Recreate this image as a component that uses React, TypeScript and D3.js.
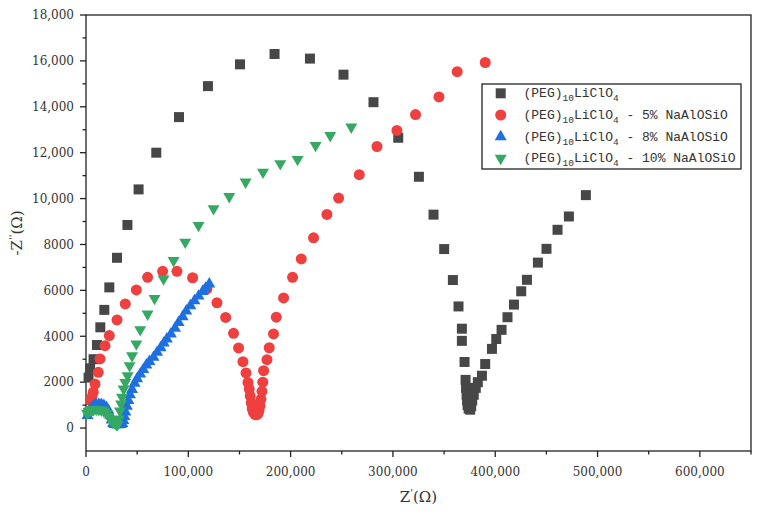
import React from 'react';
import * as d3 from 'd3';

// ---------- data (Z' in Ω, -Z'' in Ω) ----------
const xTickValues = [0, 100000, 200000, 300000, 400000, 500000, 600000];
const yTickValues = [0, 2000, 4000, 6000, 8000, 10000, 12000, 14000, 16000, 18000];
const legendSuffixes = ['', ' - 5% NaAlOSiO', ' - 8% NaAlOSiO', ' - 10% NaAlOSiO'];

const pegLiClO4: [number, number][] = [
  [2500, 2200], [4000, 2600], [7400, 3000], [10700, 3620], [14000, 4390], [17900, 5150],
  [22800, 6130], [30300, 7420], [40500, 8850], [51400, 10400], [68700, 12000], [90900, 13550],
  [119200, 14900], [150500, 15850], [184300, 16300], [218900, 16100], [251700, 15400],
  [281000, 14200], [305200, 12650], [325400, 10950], [339700, 9300], [350100, 7800],
  [358600, 6450], [364100, 5300], [367400, 4330], [367400, 3800], [370000, 2880],
  [371000, 2100], [371500, 1750], [372000, 1450], [372500, 1200], [373000, 1000],
  [374000, 850], [375500, 800], [376500, 950], [377500, 1200], [379000, 1450],
  [381000, 1750], [383000, 2000], [387000, 2280], [390200, 2790], [396800, 3450],
  [401000, 3880], [406200, 4280], [412000, 4830], [418300, 5380], [425400, 5960],
  [431000, 6460], [441700, 7210], [450100, 7810], [460900, 8640], [472000, 9220], [488600, 10150],
];

const peg5: [number, number][] = [
  [4500, 1200], [5900, 1350], [7100, 1560], [8800, 1920], [12000, 2430], [13700, 3010],
  [18600, 3590], [22800, 4030], [30300, 4710], [38400, 5410], [49200, 6020], [60200, 6570],
  [74900, 6830], [88900, 6830], [104200, 6550], [118200, 6070], [128000, 5460],
  [136500, 4820], [144200, 4130], [149100, 3490], [153400, 2890], [156400, 2400],
  [158300, 1990], [159500, 1700], [160500, 1400], [161500, 1100], [162500, 850],
  [163500, 700], [165000, 600], [166500, 580], [168000, 620], [169000, 750], [170000, 950],
  [171000, 1250], [172000, 1600], [172800, 2000], [173600, 2500], [176900, 2980],
  [179100, 3500], [183300, 4100], [186000, 4830], [193100, 5670], [201900, 6570],
  [210400, 7370], [222400, 8290], [235500, 9310], [246900, 10020], [267100, 11040],
  [284400, 12270], [303900, 12970], [322100, 13660], [345000, 14430], [362800, 15530],
  [390200, 15930],
];

const peg8: [number, number][] = [
  [1500, 550], [2500, 700], [4000, 820], [6000, 920], [8000, 980], [10000, 1020],
  [12500, 1040], [15000, 1030], [17500, 990], [20000, 900], [22000, 760], [23500, 560],
  [25000, 350], [26500, 200], [28000, 150], [30000, 140], [32000, 140], [34000, 150],
  [35500, 200], [36500, 330], [37500, 500], [38500, 700], [40000, 950], [41500, 1200],
  [43000, 1450], [45000, 1680], [47500, 1950], [50000, 2150], [53000, 2350], [56000, 2550],
  [59000, 2750], [62000, 2900], [66000, 3080], [69500, 3300], [73000, 3500], [76000, 3700],
  [79000, 3880], [83000, 4100], [87000, 4350], [90500, 4600], [94500, 4850], [98000, 5100],
  [102000, 5330], [106000, 5550], [110000, 5750], [114000, 5950], [117000, 6100], [120500, 6280],
];

const peg10: [number, number][] = [
  [1000, 650], [2500, 720], [4000, 770], [5900, 800], [7500, 820], [10000, 810],
  [12500, 800], [15000, 780], [17500, 740], [20000, 650], [22000, 520], [24000, 380],
  [26000, 260], [28500, 200], [30000, 150], [31000, 160], [32000, 400], [33200, 750],
  [34300, 1050], [35200, 1340], [36800, 1700], [38400, 1990], [40700, 2280], [42600, 2720],
  [45000, 3150], [49200, 3670], [53000, 4290], [60200, 4970], [67000, 5650], [75800, 6500],
  [85600, 7300], [97000, 8100], [110000, 8830], [124700, 9560], [140000, 10090],
  [156000, 10720], [173000, 11150], [189900, 11520], [206800, 11710], [224400, 12320],
  [238700, 12750], [259300, 13120],
];

const seriesData = [pegLiClO4, peg5, peg8, peg10];
const seriesColors = ['#474747', '#ef3f3f', '#1e6fdf', '#35a963'];

// ---------- layout ----------
const W = 761;
const H = 514;
const L = 86, R = 751, T = 15, B = 451;

const fmtX = d3.format(',');
const fmtY = (v: number) => (Math.abs(v) >= 10000 ? d3.format(',')(v) : String(v));

const symbolPaths = [
  d3.symbol().type(d3.symbolSquare).size(100)() as string,
  d3.symbol().type(d3.symbolCircle).size(95)() as string,
  d3.symbol().type(d3.symbolTriangle).size(62)() as string,
  d3.symbol().type(d3.symbolTriangle).size(62)() as string,
];
const symbolRot = [0, 0, 0, 180];

export default function App() {
  const x = d3.scaleLinear().domain([0, 650000]).range([L, R]);
  const y = d3.scaleLinear().domain([-1000, 18000]).range([B, T]);

  const xMinor = d3.range(50000, 650001, 100000);
  const yMinor = d3.range(1000, 18000, 2000);

  const axisColor = '#222';
  const labelColor = '#333';
  const tickFont = 'DejaVu Serif';

  const legendX = 482, legendY = 84, legendW = 259, legendH = 85;
  const rowYs = [93.3, 115, 136.7, 158.3];

  return (
    <svg width={W} height={H} style={{ position: 'absolute', left: 0, top: 0, background: '#fff' }}>
      <rect x={0} y={0} width={W} height={H} fill="#fff" />
      {/* frame */}
      <rect x={L} y={T} width={R - L} height={B - T} fill="none" stroke={axisColor} strokeWidth={1.3} />

      {/* x ticks */}
      {xTickValues.map((v) => (
        <g key={'xt' + v}>
          <line x1={x(v)} x2={x(v)} y1={B} y2={B + 6} stroke={axisColor} strokeWidth={1.3} />
          <text x={x(v)} y={476} textAnchor="middle" fontFamily={tickFont} fontSize={12} fill={labelColor}>
            {fmtX(v)}
          </text>
        </g>
      ))}
      {xMinor.map((v) => (
        <line key={'xm' + v} x1={x(v)} x2={x(v)} y1={B} y2={B + 3.5} stroke={axisColor} strokeWidth={1.3} />
      ))}

      {/* y ticks */}
      {yTickValues.map((v) => (
        <g key={'yt' + v}>
          <line x1={L - 6} x2={L} y1={y(v)} y2={y(v)} stroke={axisColor} strokeWidth={1.3} />
          <text x={74} y={y(v) + 4.3} textAnchor="end" fontFamily={tickFont} fontSize={12} fill={labelColor}>
            {fmtY(v)}
          </text>
        </g>
      ))}
      {yMinor.map((v) => (
        <line key={'ym' + v} x1={L - 3.5} x2={L} y1={y(v)} y2={y(v)} stroke={axisColor} strokeWidth={1.3} />
      ))}

      {/* axis titles */}
      <text x={(L + R) / 2} y={502} textAnchor="middle" fontFamily={tickFont} fontSize={15} fill={labelColor}>
        Z<tspan dy={-6} fontSize={10}>'</tspan>
        <tspan dy={6}>(Ω)</tspan>
      </text>
      <text
        transform={`translate(22, ${(T + B) / 2}) rotate(-90)`}
        textAnchor="middle"
        fontFamily={tickFont}
        fontSize={15}
        fill={labelColor}
      >
        -Z<tspan dy={-6} fontSize={10}>''</tspan>
        <tspan dy={6}>(Ω)</tspan>
      </text>

      {/* series */}
      {seriesData.map((data, si) => (
        <g key={'s' + si} fill={seriesColors[si]}>
          {data.map(([vx, vy], i) => (
            <path
              key={i}
              d={symbolPaths[si]}
              transform={`translate(${x(vx)},${y(vy)}) rotate(${symbolRot[si]})`}
            />
          ))}
        </g>
      ))}

      {/* legend */}
      <rect x={legendX} y={legendY} width={legendW} height={legendH} fill="#fff" stroke={axisColor} strokeWidth={1.3} />
      {legendSuffixes.map((suf, i) => (
        <g key={'lg' + i}>
          <path
            d={symbolPaths[i]}
            fill={seriesColors[i]}
            transform={`translate(500.7,${rowYs[i]}) rotate(${symbolRot[i]})`}
          />
          <text
            x={523.5}
            y={rowYs[i] + 4}
            fontFamily="Liberation Mono"
            fontSize={13}
            fill="#333"
            style={{ whiteSpace: 'pre' }}
          >
            (PEG)
            <tspan dy={4} fontSize={9.5}>10</tspan>
            <tspan dy={-4}>LiClO</tspan>
            <tspan dy={4} fontSize={9.5}>4</tspan>
            <tspan dy={-4}>{suf}</tspan>
          </text>
        </g>
      ))}
    </svg>
  );
}
